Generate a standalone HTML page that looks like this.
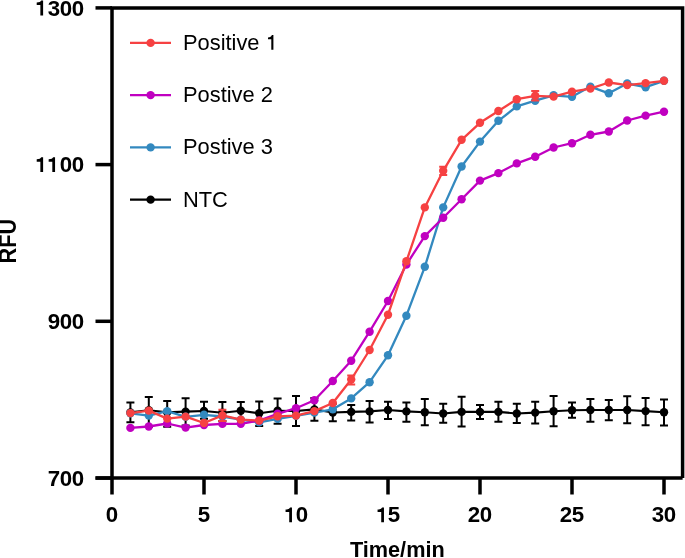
<!DOCTYPE html>
<html><head><meta charset="utf-8"><style>
html,body{margin:0;padding:0;background:#fff;width:685px;height:558px;overflow:hidden}
svg{display:block;will-change:transform}
.tk{font-family:"Liberation Sans",sans-serif;font-weight:bold;font-size:22.3px;fill:#000}
.at{font-family:"Liberation Sans",sans-serif;font-weight:bold;font-size:21.7px;fill:#000}
.lg{font-family:"Liberation Sans",sans-serif;font-size:21.85px;fill:#000}
</style></head><body>
<svg width="685" height="558" viewBox="0 0 685 558">
<path d="M112 494.5V7.9H682.6V478M95.5 478H682.6" fill="none" stroke="#000" stroke-width="3.5"/>
<path d="M95.5 7.9H112" stroke="#000" stroke-width="3.5"/>
<path d="M95.5 164.6H112" stroke="#000" stroke-width="3.5"/>
<path d="M95.5 321.3H112" stroke="#000" stroke-width="3.5"/>
<path d="M95.5 478.05H112" stroke="#000" stroke-width="3.5"/>
<path d="M204.0 478V494.5" stroke="#000" stroke-width="3.5"/>
<path d="M296.0 478V494.5" stroke="#000" stroke-width="3.5"/>
<path d="M388.0 478V494.5" stroke="#000" stroke-width="3.5"/>
<path d="M480.0 478V494.5" stroke="#000" stroke-width="3.5"/>
<path d="M572.0 478V494.5" stroke="#000" stroke-width="3.5"/>
<path d="M664.0 478V494.5" stroke="#000" stroke-width="3.5"/>
<path d="M130.4 402.5V422.3M126.4 402.5H134.4M126.4 422.3H134.4" stroke="#000000" stroke-width="2.0" fill="none"/><path d="M148.8 396.9V427.0M144.8 396.9H152.8M144.8 427.0H152.8" stroke="#000000" stroke-width="2.0" fill="none"/><path d="M167.2 400.9V426.7M163.2 400.9H171.2M163.2 426.7H171.2" stroke="#000000" stroke-width="2.0" fill="none"/><path d="M185.6 398.2V425.5M181.6 398.2H189.6M181.6 425.5H189.6" stroke="#000000" stroke-width="2.0" fill="none"/><path d="M204.0 401.7V418.8M200.0 401.7H208.0M200.0 418.8H208.0" stroke="#000000" stroke-width="2.0" fill="none"/><path d="M222.4 401.9V421.0M218.4 401.9H226.4M218.4 421.0H226.4" stroke="#000000" stroke-width="2.0" fill="none"/><path d="M240.8 402.0V419.4M236.8 402.0H244.8M236.8 419.4H244.8" stroke="#000000" stroke-width="2.0" fill="none"/><path d="M259.2 401.5V426.0M255.2 401.5H263.2M255.2 426.0H263.2" stroke="#000000" stroke-width="2.0" fill="none"/><path d="M277.6 398.4V423.8M273.6 398.4H281.6M273.6 423.8H281.6" stroke="#000000" stroke-width="2.0" fill="none"/><path d="M296.0 395.9V426.0M292.0 395.9H300.0M292.0 426.0H300.0" stroke="#000000" stroke-width="2.0" fill="none"/><path d="M314.4 398.0V420.8M310.4 398.0H318.4M310.4 420.8H318.4" stroke="#000000" stroke-width="2.0" fill="none"/><path d="M332.8 403.7V421.3M328.8 403.7H336.8M328.8 421.3H336.8" stroke="#000000" stroke-width="2.0" fill="none"/><path d="M351.2 404.9V420.5M347.2 404.9H355.2M347.2 420.5H355.2" stroke="#000000" stroke-width="2.0" fill="none"/><path d="M369.6 400.9V422.4M365.6 400.9H373.6M365.6 422.4H373.6" stroke="#000000" stroke-width="2.0" fill="none"/><path d="M388.0 401.8V418.9M384.0 401.8H392.0M384.0 418.9H392.0" stroke="#000000" stroke-width="2.0" fill="none"/><path d="M406.4 402.5V421.7M402.4 402.5H410.4M402.4 421.7H410.4" stroke="#000000" stroke-width="2.0" fill="none"/><path d="M424.8 399.0V425.2M420.8 399.0H428.8M420.8 425.2H428.8" stroke="#000000" stroke-width="2.0" fill="none"/><path d="M443.2 403.7V422.8M439.2 403.7H447.2M439.2 422.8H447.2" stroke="#000000" stroke-width="2.0" fill="none"/><path d="M461.6 396.7V426.6M457.6 396.7H465.6M457.6 426.6H465.6" stroke="#000000" stroke-width="2.0" fill="none"/><path d="M480.0 404.9V418.9M476.0 404.9H484.0M476.0 418.9H484.0" stroke="#000000" stroke-width="2.0" fill="none"/><path d="M498.4 401.8V421.7M494.4 401.8H502.4M494.4 421.7H502.4" stroke="#000000" stroke-width="2.0" fill="none"/><path d="M516.8 403.7V423.1M512.8 403.7H520.8M512.8 423.1H520.8" stroke="#000000" stroke-width="2.0" fill="none"/><path d="M535.2 401.8V423.5M531.2 401.8H539.2M531.2 423.5H539.2" stroke="#000000" stroke-width="2.0" fill="none"/><path d="M553.6 396.0V426.3M549.6 396.0H557.6M549.6 426.3H557.6" stroke="#000000" stroke-width="2.0" fill="none"/><path d="M572.0 402.5V417.7M568.0 402.5H576.0M568.0 417.7H576.0" stroke="#000000" stroke-width="2.0" fill="none"/><path d="M590.4 399.1V421.8M586.4 399.1H594.4M586.4 421.8H594.4" stroke="#000000" stroke-width="2.0" fill="none"/><path d="M608.8 400.0V420.3M604.8 400.0H612.8M604.8 420.3H612.8" stroke="#000000" stroke-width="2.0" fill="none"/><path d="M627.2 396.2V423.3M623.2 396.2H631.2M623.2 423.3H631.2" stroke="#000000" stroke-width="2.0" fill="none"/><path d="M645.6 398.0V425.2M641.6 398.0H649.6M641.6 425.2H649.6" stroke="#000000" stroke-width="2.0" fill="none"/><path d="M664.0 399.6V425.6M660.0 399.6H668.0M660.0 425.6H668.0" stroke="#000000" stroke-width="2.0" fill="none"/>
<polyline points="130.4,412.4 148.8,410.3 167.2,412.2 185.6,411.6 204.0,411.0 222.4,412.8 240.8,410.7 259.2,413.3 277.6,410.7 296.0,411.0 314.4,409.4 332.8,412.5 351.2,411.9 369.6,411.4 388.0,410.0 406.4,411.4 424.8,412.3 443.2,413.5 461.6,411.9 480.0,411.9 498.4,411.9 516.8,413.5 535.2,412.6 553.6,411.2 572.0,410.2 590.4,410.0 608.8,410.0 627.2,410.0 645.6,411.1 664.0,412.3" fill="none" stroke="#000000" stroke-width="2.1" stroke-linejoin="round"/>
<circle cx="130.4" cy="412.4" r="4.2" fill="#000000"/><circle cx="148.8" cy="410.3" r="4.2" fill="#000000"/><circle cx="167.2" cy="412.2" r="4.2" fill="#000000"/><circle cx="185.6" cy="411.6" r="4.2" fill="#000000"/><circle cx="204.0" cy="411.0" r="4.2" fill="#000000"/><circle cx="222.4" cy="412.8" r="4.2" fill="#000000"/><circle cx="240.8" cy="410.7" r="4.2" fill="#000000"/><circle cx="259.2" cy="413.3" r="4.2" fill="#000000"/><circle cx="277.6" cy="410.7" r="4.2" fill="#000000"/><circle cx="296.0" cy="411.0" r="4.2" fill="#000000"/><circle cx="314.4" cy="409.4" r="4.2" fill="#000000"/><circle cx="332.8" cy="412.5" r="4.2" fill="#000000"/><circle cx="351.2" cy="411.9" r="4.2" fill="#000000"/><circle cx="369.6" cy="411.4" r="4.2" fill="#000000"/><circle cx="388.0" cy="410.0" r="4.2" fill="#000000"/><circle cx="406.4" cy="411.4" r="4.2" fill="#000000"/><circle cx="424.8" cy="412.3" r="4.2" fill="#000000"/><circle cx="443.2" cy="413.5" r="4.2" fill="#000000"/><circle cx="461.6" cy="411.9" r="4.2" fill="#000000"/><circle cx="480.0" cy="411.9" r="4.2" fill="#000000"/><circle cx="498.4" cy="411.9" r="4.2" fill="#000000"/><circle cx="516.8" cy="413.5" r="4.2" fill="#000000"/><circle cx="535.2" cy="412.6" r="4.2" fill="#000000"/><circle cx="553.6" cy="411.2" r="4.2" fill="#000000"/><circle cx="572.0" cy="410.2" r="4.2" fill="#000000"/><circle cx="590.4" cy="410.0" r="4.2" fill="#000000"/><circle cx="608.8" cy="410.0" r="4.2" fill="#000000"/><circle cx="627.2" cy="410.0" r="4.2" fill="#000000"/><circle cx="645.6" cy="411.1" r="4.2" fill="#000000"/><circle cx="664.0" cy="412.3" r="4.2" fill="#000000"/>

<polyline points="130.4,413.3 148.8,415.6 167.2,411.1 185.6,416.8 204.0,414.8 222.4,416.5 240.8,419.6 259.2,422.4 277.6,418.9 296.0,415.8 314.4,412.6 332.8,409.3 351.2,398.4 369.6,382.2 388.0,355.3 406.4,315.7 424.8,266.8 443.2,207.4 461.6,166.5 480.0,141.6 498.4,120.8 516.8,106.4 535.2,100.7 553.6,95.3 572.0,96.8 590.4,86.6 608.8,93.3 627.2,83.5 645.6,87.2 664.0,80.8" fill="none" stroke="#3389BF" stroke-width="2.3" stroke-linejoin="round"/>
<circle cx="130.4" cy="413.3" r="4.2" fill="#3389BF"/><circle cx="148.8" cy="415.6" r="4.2" fill="#3389BF"/><circle cx="167.2" cy="411.1" r="4.2" fill="#3389BF"/><circle cx="185.6" cy="416.8" r="4.2" fill="#3389BF"/><circle cx="204.0" cy="414.8" r="4.2" fill="#3389BF"/><circle cx="222.4" cy="416.5" r="4.2" fill="#3389BF"/><circle cx="240.8" cy="419.6" r="4.2" fill="#3389BF"/><circle cx="259.2" cy="422.4" r="4.2" fill="#3389BF"/><circle cx="277.6" cy="418.9" r="4.2" fill="#3389BF"/><circle cx="296.0" cy="415.8" r="4.2" fill="#3389BF"/><circle cx="314.4" cy="412.6" r="4.2" fill="#3389BF"/><circle cx="332.8" cy="409.3" r="4.2" fill="#3389BF"/><circle cx="351.2" cy="398.4" r="4.2" fill="#3389BF"/><circle cx="369.6" cy="382.2" r="4.2" fill="#3389BF"/><circle cx="388.0" cy="355.3" r="4.2" fill="#3389BF"/><circle cx="406.4" cy="315.7" r="4.2" fill="#3389BF"/><circle cx="424.8" cy="266.8" r="4.2" fill="#3389BF"/><circle cx="443.2" cy="207.4" r="4.2" fill="#3389BF"/><circle cx="461.6" cy="166.5" r="4.2" fill="#3389BF"/><circle cx="480.0" cy="141.6" r="4.2" fill="#3389BF"/><circle cx="498.4" cy="120.8" r="4.2" fill="#3389BF"/><circle cx="516.8" cy="106.4" r="4.2" fill="#3389BF"/><circle cx="535.2" cy="100.7" r="4.2" fill="#3389BF"/><circle cx="553.6" cy="95.3" r="4.2" fill="#3389BF"/><circle cx="572.0" cy="96.8" r="4.2" fill="#3389BF"/><circle cx="590.4" cy="86.6" r="4.2" fill="#3389BF"/><circle cx="608.8" cy="93.3" r="4.2" fill="#3389BF"/><circle cx="627.2" cy="83.5" r="4.2" fill="#3389BF"/><circle cx="645.6" cy="87.2" r="4.2" fill="#3389BF"/><circle cx="664.0" cy="80.8" r="4.2" fill="#3389BF"/>

<polyline points="130.4,427.9 148.8,426.5 167.2,423.5 185.6,427.6 204.0,425.0 222.4,423.9 240.8,423.8 259.2,420.5 277.6,413.8 296.0,408.2 314.4,400.2 332.8,381.0 351.2,360.7 369.6,331.7 388.0,301.0 406.4,264.5 424.8,236.1 443.2,217.7 461.6,199.3 480.0,180.6 498.4,173.1 516.8,163.4 535.2,156.7 553.6,147.5 572.0,143.2 590.4,134.8 608.8,131.5 627.2,120.5 645.6,115.6 664.0,111.7" fill="none" stroke="#C000C0" stroke-width="2.3" stroke-linejoin="round"/>
<circle cx="130.4" cy="427.9" r="4.2" fill="#C000C0"/><circle cx="148.8" cy="426.5" r="4.2" fill="#C000C0"/><circle cx="167.2" cy="423.5" r="4.2" fill="#C000C0"/><circle cx="185.6" cy="427.6" r="4.2" fill="#C000C0"/><circle cx="204.0" cy="425.0" r="4.2" fill="#C000C0"/><circle cx="222.4" cy="423.9" r="4.2" fill="#C000C0"/><circle cx="240.8" cy="423.8" r="4.2" fill="#C000C0"/><circle cx="259.2" cy="420.5" r="4.2" fill="#C000C0"/><circle cx="277.6" cy="413.8" r="4.2" fill="#C000C0"/><circle cx="296.0" cy="408.2" r="4.2" fill="#C000C0"/><circle cx="314.4" cy="400.2" r="4.2" fill="#C000C0"/><circle cx="332.8" cy="381.0" r="4.2" fill="#C000C0"/><circle cx="351.2" cy="360.7" r="4.2" fill="#C000C0"/><circle cx="369.6" cy="331.7" r="4.2" fill="#C000C0"/><circle cx="388.0" cy="301.0" r="4.2" fill="#C000C0"/><circle cx="406.4" cy="264.5" r="4.2" fill="#C000C0"/><circle cx="424.8" cy="236.1" r="4.2" fill="#C000C0"/><circle cx="443.2" cy="217.7" r="4.2" fill="#C000C0"/><circle cx="461.6" cy="199.3" r="4.2" fill="#C000C0"/><circle cx="480.0" cy="180.6" r="4.2" fill="#C000C0"/><circle cx="498.4" cy="173.1" r="4.2" fill="#C000C0"/><circle cx="516.8" cy="163.4" r="4.2" fill="#C000C0"/><circle cx="535.2" cy="156.7" r="4.2" fill="#C000C0"/><circle cx="553.6" cy="147.5" r="4.2" fill="#C000C0"/><circle cx="572.0" cy="143.2" r="4.2" fill="#C000C0"/><circle cx="590.4" cy="134.8" r="4.2" fill="#C000C0"/><circle cx="608.8" cy="131.5" r="4.2" fill="#C000C0"/><circle cx="627.2" cy="120.5" r="4.2" fill="#C000C0"/><circle cx="645.6" cy="115.6" r="4.2" fill="#C000C0"/><circle cx="664.0" cy="111.7" r="4.2" fill="#C000C0"/>

<path d="M222.4 409.8V421.0M218.4 409.8H226.4M218.4 421.0H226.4" stroke="#F64142" stroke-width="2.0" fill="none"/><path d="M351.2 375.5V384.4M347.2 375.5H355.2M347.2 384.4H355.2" stroke="#F64142" stroke-width="2.0" fill="none"/><path d="M443.2 166.8V175.0M439.2 166.8H447.2M439.2 175.0H447.2" stroke="#F64142" stroke-width="2.0" fill="none"/><path d="M535.2 91.1V100.4M531.2 91.1H539.2M531.2 100.4H539.2" stroke="#F64142" stroke-width="2.0" fill="none"/>
<polyline points="130.4,413.1 148.8,410.6 167.2,418.6 185.6,416.6 204.0,423.0 222.4,415.4 240.8,419.6 259.2,420.6 277.6,416.3 296.0,415.6 314.4,411.1 332.8,403.0 351.2,379.5 369.6,350.0 388.0,314.7 406.4,261.3 424.8,207.4 443.2,170.8 461.6,139.8 480.0,122.8 498.4,111.0 516.8,99.2 535.2,95.8 553.6,96.6 572.0,91.7 590.4,88.6 608.8,82.5 627.2,85.1 645.6,83.1 664.0,80.8" fill="none" stroke="#F64142" stroke-width="2.3" stroke-linejoin="round"/>
<circle cx="130.4" cy="413.1" r="4.2" fill="#F64142"/><circle cx="148.8" cy="410.6" r="4.2" fill="#F64142"/><circle cx="167.2" cy="418.6" r="4.2" fill="#F64142"/><circle cx="185.6" cy="416.6" r="4.2" fill="#F64142"/><circle cx="204.0" cy="423.0" r="4.2" fill="#F64142"/><circle cx="222.4" cy="415.4" r="4.2" fill="#F64142"/><circle cx="240.8" cy="419.6" r="4.2" fill="#F64142"/><circle cx="259.2" cy="420.6" r="4.2" fill="#F64142"/><circle cx="277.6" cy="416.3" r="4.2" fill="#F64142"/><circle cx="296.0" cy="415.6" r="4.2" fill="#F64142"/><circle cx="314.4" cy="411.1" r="4.2" fill="#F64142"/><circle cx="332.8" cy="403.0" r="4.2" fill="#F64142"/><circle cx="351.2" cy="379.5" r="4.2" fill="#F64142"/><circle cx="369.6" cy="350.0" r="4.2" fill="#F64142"/><circle cx="388.0" cy="314.7" r="4.2" fill="#F64142"/><circle cx="406.4" cy="261.3" r="4.2" fill="#F64142"/><circle cx="424.8" cy="207.4" r="4.2" fill="#F64142"/><circle cx="443.2" cy="170.8" r="4.2" fill="#F64142"/><circle cx="461.6" cy="139.8" r="4.2" fill="#F64142"/><circle cx="480.0" cy="122.8" r="4.2" fill="#F64142"/><circle cx="498.4" cy="111.0" r="4.2" fill="#F64142"/><circle cx="516.8" cy="99.2" r="4.2" fill="#F64142"/><circle cx="535.2" cy="95.8" r="4.2" fill="#F64142"/><circle cx="553.6" cy="96.6" r="4.2" fill="#F64142"/><circle cx="572.0" cy="91.7" r="4.2" fill="#F64142"/><circle cx="590.4" cy="88.6" r="4.2" fill="#F64142"/><circle cx="608.8" cy="82.5" r="4.2" fill="#F64142"/><circle cx="627.2" cy="85.1" r="4.2" fill="#F64142"/><circle cx="645.6" cy="83.1" r="4.2" fill="#F64142"/><circle cx="664.0" cy="80.8" r="4.2" fill="#F64142"/>

<path d="M130 42.9H171" stroke="#F64142" stroke-width="2.3"/><circle cx="150.6" cy="42.9" r="4.2" fill="#F64142"/>
<text transform="translate(183,49.85) scale(1,1.03)" class="lg">Positive</text><path d="M0 0V-14.8H-1.5C-2 -13.4 -3.3 -12.5 -5.4 -12.3V-10.7H-2.1V0Z" transform="translate(273.4,49.85)"/>
<path d="M130 95.15H171" stroke="#C000C0" stroke-width="2.3"/><circle cx="150.6" cy="95.15" r="4.2" fill="#C000C0"/>
<text transform="translate(183,102.10) scale(1,1.03)" class="lg">Postive 2</text>
<path d="M130 147.4H171" stroke="#3389BF" stroke-width="2.3"/><circle cx="150.6" cy="147.4" r="4.2" fill="#3389BF"/>
<text transform="translate(183,154.35) scale(1,1.03)" class="lg">Postive 3</text>
<path d="M130 199.65H171" stroke="#000000" stroke-width="2.3"/><circle cx="150.6" cy="199.65" r="4.2" fill="#000000"/>
<text transform="translate(183,206.60) scale(1,1.03)" class="lg">NTC</text>
<path d="M0 0V-14.9H-1.9C-2.4 -13.9 -3.8 -12.9 -6.4 -12.8V-10.4H-2.75V0Z" transform="translate(43.11,15.40)"/><text transform="translate(54.06,15.50) scale(1,1.03)" class="tk" text-anchor="middle">3</text><text transform="translate(66.02,15.50) scale(1,1.03)" class="tk" text-anchor="middle">0</text><text transform="translate(77.97,15.50) scale(1,1.03)" class="tk" text-anchor="middle">0</text>
<path d="M0 0V-14.9H-1.9C-2.4 -13.9 -3.8 -12.9 -6.4 -12.8V-10.4H-2.75V0Z" transform="translate(43.11,172.10)"/><path d="M0 0V-14.9H-1.9C-2.4 -13.9 -3.8 -12.9 -6.4 -12.8V-10.4H-2.75V0Z" transform="translate(55.06,172.10)"/><text transform="translate(66.02,172.20) scale(1,1.03)" class="tk" text-anchor="middle">0</text><text transform="translate(77.97,172.20) scale(1,1.03)" class="tk" text-anchor="middle">0</text>
<text transform="translate(54.06,328.90) scale(1,1.03)" class="tk" text-anchor="middle">9</text><text transform="translate(66.02,328.90) scale(1,1.03)" class="tk" text-anchor="middle">0</text><text transform="translate(77.97,328.90) scale(1,1.03)" class="tk" text-anchor="middle">0</text>
<text transform="translate(54.06,485.65) scale(1,1.03)" class="tk" text-anchor="middle">7</text><text transform="translate(66.02,485.65) scale(1,1.03)" class="tk" text-anchor="middle">0</text><text transform="translate(77.97,485.65) scale(1,1.03)" class="tk" text-anchor="middle">0</text>
<text transform="translate(112.00,522.45) scale(1,1.03)" class="tk" text-anchor="middle">0</text>
<text transform="translate(204.00,522.45) scale(1,1.03)" class="tk" text-anchor="middle">5</text>
<path d="M0 0V-14.9H-1.9C-2.4 -13.9 -3.8 -12.9 -6.4 -12.8V-10.4H-2.75V0Z" transform="translate(291.97,522.35)"/><text transform="translate(301.98,522.45) scale(1,1.03)" class="tk" text-anchor="middle">0</text>
<path d="M0 0V-14.9H-1.9C-2.4 -13.9 -3.8 -12.9 -6.4 -12.8V-10.4H-2.75V0Z" transform="translate(383.97,522.35)"/><text transform="translate(393.98,522.45) scale(1,1.03)" class="tk" text-anchor="middle">5</text>
<text transform="translate(474.02,522.45) scale(1,1.03)" class="tk" text-anchor="middle">2</text><text transform="translate(485.98,522.45) scale(1,1.03)" class="tk" text-anchor="middle">0</text>
<text transform="translate(566.02,522.45) scale(1,1.03)" class="tk" text-anchor="middle">2</text><text transform="translate(577.98,522.45) scale(1,1.03)" class="tk" text-anchor="middle">5</text>
<text transform="translate(658.02,522.45) scale(1,1.03)" class="tk" text-anchor="middle">3</text><text transform="translate(669.98,522.45) scale(1,1.03)" class="tk" text-anchor="middle">0</text>
<text x="349.9" y="557.25" class="at">Time/min</text>
<text transform="translate(16.2,241.2) rotate(-90) scale(1,1.06)" class="at" text-anchor="middle">RFU</text>
</svg>
</body></html>
